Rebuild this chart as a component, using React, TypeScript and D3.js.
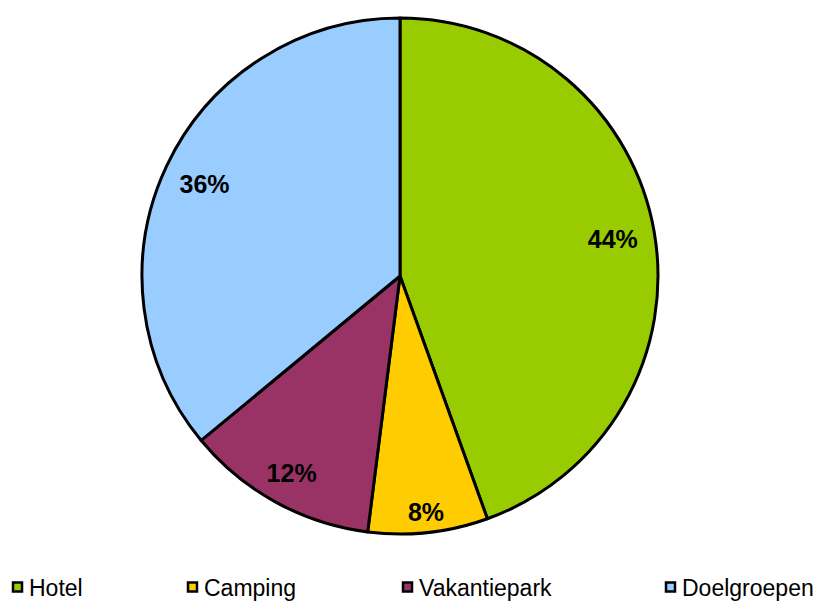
import { useEffect, useRef } from "react";
import * as d3 from "d3";

const categories = ["Hotel", "Camping", "Vakantiepark", "Doelgroepen"];
const values = [44.5, 7.5, 12, 36];
const labels = ["44%", "8%", "12%", "36%"];
const colors = ["#99cc00", "#ffcc00", "#993366", "#99ccff"];
const legendX = [13, 188, 403, 666];

type Slice = { name: string; value: number; label: string; color: string };

export default function App() {
  const ref = useRef<SVGSVGElement | null>(null);

  useEffect(() => {
    if (!ref.current) return;
    const svg = d3.select(ref.current);
    svg.selectAll("*").remove();

    const cx = 400;
    const cy = 276;
    const radius = 258;
    // label distance from centre, per slice (Excel best-fit placement)
    const labelRadius = [216, 237, 225, 216];

    const data: Slice[] = categories.map((name, i) => ({
      name,
      value: values[i],
      label: labels[i],
      color: colors[i],
    }));

    const pie = d3
      .pie<Slice>()
      .value((d) => d.value)
      .sort(null);

    const arc = d3.arc<d3.PieArcDatum<Slice>>().innerRadius(0).outerRadius(radius);

    const g = svg.append("g").attr("transform", `translate(${cx},${cy})`);
    const arcs = pie(data);

    g.selectAll("path")
      .data(arcs)
      .join("path")
      .attr("d", arc)
      .attr("fill", (d) => d.data.color)
      .attr("stroke", "#000")
      .attr("stroke-width", 3)
      .attr("stroke-linejoin", "round");

    // MARK: percentage labels
    g.selectAll("text")
      .data(arcs)
      .join("text")
      .attr("transform", (d, i) => {
        const r = labelRadius[i];
        const c = d3.arc<d3.PieArcDatum<Slice>>().innerRadius(r).outerRadius(r).centroid(d);
        return `translate(${c})`;
      })
      .attr("text-anchor", "middle")
      .attr("dy", "0.36em")
      .attr("font-family", "Liberation Sans, Arial, sans-serif")
      .attr("font-weight", "bold")
      .attr("font-size", 25)
      .text((d) => d.data.label);

    // MARK: legend
    const legend = svg.append("g");
    data.forEach((d, i) => {
      legend
        .append("rect")
        .attr("x", legendX[i])
        .attr("y", 582.5)
        .attr("width", 9)
        .attr("height", 9)
        .attr("fill", d.color)
        .attr("stroke", "#000")
        .attr("stroke-width", 2.5);
      legend
        .append("text")
        .attr("x", legendX[i] + 16)
        .attr("y", 596)
        .attr("font-family", "Liberation Sans, Arial, sans-serif")
        .attr("font-size", 23)
        .text(d.name);
    });
  }, []);

  return (
    <svg
      ref={ref}
      width={823}
      height={603}
      style={{ position: "absolute", left: 0, top: 0, background: "#fff" }}
    />
  );
}
